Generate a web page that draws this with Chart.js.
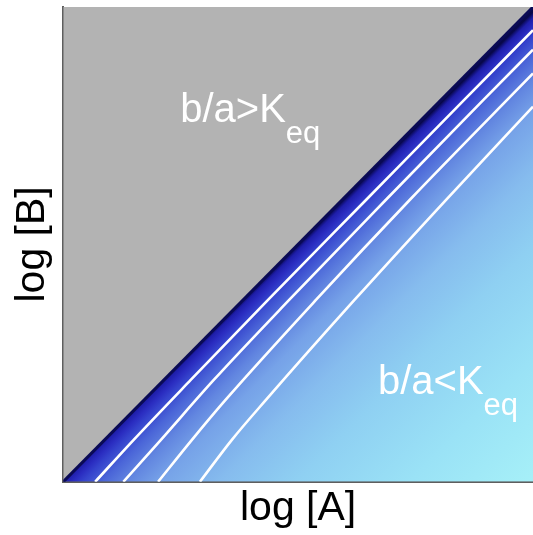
<!DOCTYPE html>
<html>
<head>
<meta charset="utf-8">
<script src="https://cdn.jsdelivr.net/npm/chart.js@4/dist/chart.umd.min.js"></script>
<style>
  html, body { margin: 0; padding: 0; background: #ffffff; }
  #wrap { width: 533px; height: 535px; position: relative; }
</style>
</head>
<body>
<div id="wrap"><canvas id="c" width="533" height="535"></canvas></div>
<script>
// ---- Data (axes are log [A] and log [B], arbitrary units 0..100) ----
const xTitle = 'log [A]';
const yTitle = 'log [B]';

// equilibrium boundary b/a = Keq
const boundaryX = [0, 100];
const boundaryY = [0, 100];

// white contour lines
const contour1X = [6.8, 15.0, 27.2, 43.6, 64.5, 85.3, 100];
const contour1Y = [0, 8.84, 21.5, 38.3, 59.4, 80.4, 95.1];
const contour2X = [12.8, 20.8, 32.1, 48.1, 68.7, 89.4, 100];
const contour2Y = [0, 8.84, 21.5, 38.3, 59.4, 80.4, 91.0];
const contour3X = [20.2, 27.4, 34.6, 53.8, 73.8, 100];
const contour3Y = [0, 8.84, 17.3, 38.3, 59.4, 86.0];
const contour4X = [29.1, 35.9, 43.2, 62.0, 81.5, 100];
const contour4Y = [0, 8.84, 17.3, 38.3, 59.4, 79.0];

// region annotations
const regionText = ['b/a>K', 'b/a<K'];
const regionSub = ['eq', 'eq'];
const regionX = [24.9, 67.0];
const regionY = [75.8, 18.5];

// colour ramp of the free-energy field (fraction of distance from boundary)
const rampPos = [0, 0.006, 0.013, 0.03, 0.05, 0.093, 0.145, 0.21, 0.34, 0.5, 0.74, 1];
const rampCol = ['#08084a', '#12127a', '#1e1eaa', '#2a2cc0', '#3442cc', '#4b66d8',
                 '#6286e0', '#76a2e8', '#86bcee', '#8fd0f2', '#9ae2f6', '#a6f0f8'];

const FONT = '"Liberation Sans", Arial, Helvetica, sans-serif';

function pts(xs, ys) { return xs.map((x, i) => ({ x: x, y: ys[i] })); }

function fieldGradient(context) {
  const chart = context.chart;
  const area = chart.chartArea;
  if (!area) return 'rgba(0,0,0,0)';
  const xs = chart.scales.x, ys = chart.scales.y;
  const x0 = xs.getPixelForValue(50), y0 = ys.getPixelForValue(50);
  const x1 = xs.getPixelForValue(100), y1 = ys.getPixelForValue(0);
  const g = chart.ctx.createLinearGradient(x0, y0, x1, y1);
  rampPos.forEach((p, i) => g.addColorStop(p, rampCol[i]));
  return g;
}

const contourStyle = {
  borderColor: '#ffffff', borderWidth: 2.6, pointRadius: 0, fill: false,
  cubicInterpolationMode: 'monotone', showLine: true
};

const regionLabels = {
  id: 'regionLabels',
  afterDatasetsDraw(chart) {
    const c = chart.ctx;
    const xs = chart.scales.x, ys = chart.scales.y;
    c.save();
    c.fillStyle = '#ffffff';
    c.textBaseline = 'alphabetic';
    c.textAlign = 'left';
    regionText.forEach((t, i) => {
      const px = xs.getPixelForValue(regionX[i]);
      const py = ys.getPixelForValue(regionY[i]);
      c.font = '40px ' + FONT;
      c.fillText(t, px, py);
      const w = c.measureText(t).width;
      c.font = '31px ' + FONT;
      c.fillText(regionSub[i], px + w, py + 21);
    });
    c.restore();
  }
};

new Chart(document.getElementById('c'), {
  type: 'scatter',
  data: {
    datasets: [
      { // upper-left region (b/a > Keq)
        data: pts(boundaryX, boundaryY), showLine: true, pointRadius: 0,
        borderWidth: 0, borderColor: 'rgba(0,0,0,0)',
        fill: 'end', backgroundColor: '#b3b3b3', order: 3
      },
      { // lower-right region with colour field (b/a < Keq)
        data: pts(boundaryX, boundaryY), showLine: true, pointRadius: 0,
        borderWidth: 3, borderColor: '#0a0a55',
        fill: 'start', backgroundColor: fieldGradient, order: 2
      },
      Object.assign({ data: pts(contour1X, contour1Y), order: 1 }, contourStyle),
      Object.assign({ data: pts(contour2X, contour2Y), order: 1 }, contourStyle),
      Object.assign({ data: pts(contour3X, contour3Y), order: 1 }, contourStyle),
      Object.assign({ data: pts(contour4X, contour4Y), order: 1 }, contourStyle)
    ]
  },
  options: {
    responsive: false,
    animation: false,
    devicePixelRatio: 1,
    layout: { padding: { top: 7, right: 0, left: 0, bottom: 0 } },
    plugins: { legend: { display: false }, tooltip: { enabled: false } },
    scales: {
      x: {
        type: 'linear', min: 0, max: 100, position: 'bottom',
        grid: { display: false, drawTicks: false },
        ticks: { display: false },
        border: { display: true, color: '#5e5e5e', width: 2 },
        title: { display: true, text: xTitle, color: '#000000',
                 font: { size: 41, family: FONT }, padding: { top: 2, bottom: 2 } }
      },
      x2: {
        type: 'linear', min: 0, max: 100, position: 'top',
        grid: { display: false, drawTicks: false },
        ticks: { display: false },
        border: { display: true, color: '#7a7a7a', width: 1 }
      },
      y: {
        type: 'linear', min: 0, max: 100, position: 'left',
        grid: { display: false, drawTicks: false },
        ticks: { display: false },
        border: { display: true, color: '#5e5e5e', width: 2 },
        title: { display: true, text: yTitle, color: '#000000',
                 font: { size: 41, family: FONT }, padding: { top: 8, bottom: 6 } }
      }
    }
  },
  plugins: [regionLabels]
});
</script>
</body>
</html>
